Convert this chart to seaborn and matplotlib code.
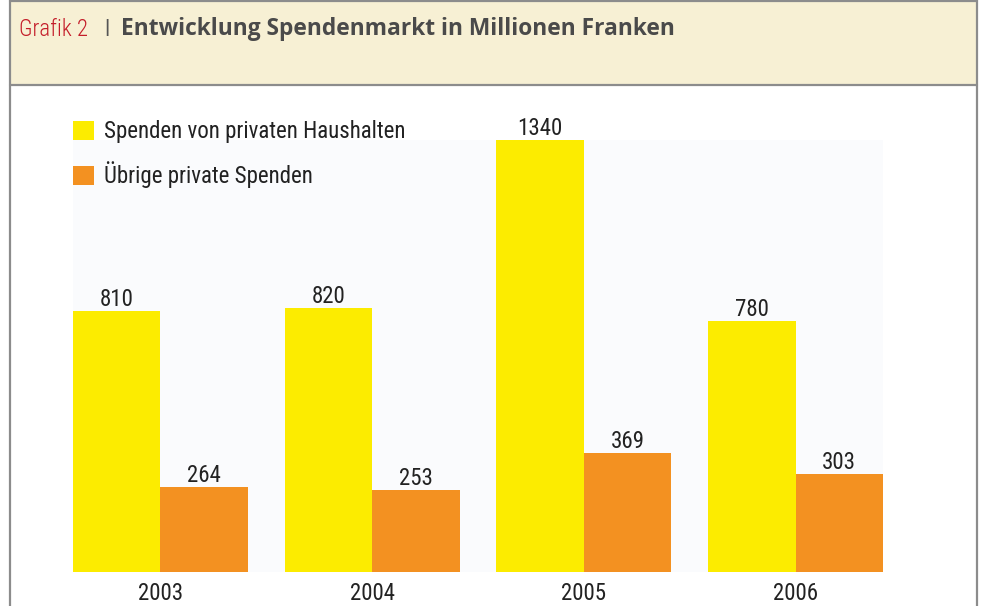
import pandas as pd
import matplotlib.pyplot as plt
import seaborn as sns
from matplotlib.patches import Rectangle
from matplotlib.lines import Line2D


years = ['2003', '2004', '2005', '2006']
haushalte = [810, 820, 1340, 780]
uebrige = [264, 253, 369, 303]
series_names = ['Spenden von privaten Haushalten', 'Übrige private Spenden']

df = pd.DataFrame({
    'Jahr': years * 2,
    'Wert': haushalte + uebrige,
    'Serie': [series_names[0]] * 4 + [series_names[1]] * 4,
})

sns.set_theme(style='white')
narrow = ['Roboto Condensed', 'DejaVu Sans']
plt.rcParams['font.family'] = narrow
plt.rcParams['font.weight'] = 'normal'

W, H = 989, 606
fig = plt.figure(figsize=(W / 100, H / 100), dpi=100)
fig.patch.set_facecolor('white')

# header band and frame
fig.patches.append(Rectangle((10 / W, 1 - 85 / H), 967 / W, 84 / H, transform=fig.transFigure,
                             facecolor='#f7f0d4', edgecolor='none', zorder=0))
for xs, ys in [([10, 10], [0, H]), ([977, 977], [0, H]), ([10, 977], [1, 1]), ([10, 977], [85, 85])]:
    fig.add_artist(Line2D([x / W for x in xs], [1 - y / H for y in ys], color='#8c8c8c', lw=1.6))

fig.text(19 / W, 1 - 29 / H, 'Grafik 2', color='#c41e2a', fontsize=16.5, va='center',
         fontweight='light')
fig.text(104 / W, 1 - 29 / H, '|', color='#555555', fontsize=15, va='center', fontweight='bold')
fig.text(121 / W, 1 - 29 / H, 'Entwicklung Spendenmarkt in Millionen Franken', color='#4a4a4a',
         fontsize=16.4, va='center', fontweight='bold', family=['Open Sans', 'DejaVu Sans'])

ax = fig.add_axes([73 / W, 34 / H, 810 / W, 432 / H])
sns.barplot(data=df, x='Jahr', y='Wert', hue='Serie', ax=ax, width=0.826, saturation=1,
            palette=['#fcec00', '#f39121'], gap=0, linewidth=0)
ax.set_facecolor('#fafbfd')
ax.set_xlim(-0.413, 3.413)
ax.set_ylim(0, 1340)
for s in ax.spines.values():
    s.set_visible(False)
ax.set_yticks([])
ax.set_xlabel('')
ax.set_ylabel('')
ax.tick_params(axis='x', length=0, pad=7, labelsize=16.5, labelcolor='#222222')

for cont in ax.containers:
    ax.bar_label(cont, padding=0, fontsize=16.5, color='#222222')

ax.legend(loc='upper left', bbox_to_anchor=(73 / W, 1 - 120 / H), bbox_transform=fig.transFigure,
          frameon=False, fontsize=16.5, handlelength=0.9, handleheight=0.9, handletextpad=0.45,
          labelspacing=0.8, borderpad=0, borderaxespad=0, labelcolor='#222222')

fig.savefig('out.png', dpi=100)
